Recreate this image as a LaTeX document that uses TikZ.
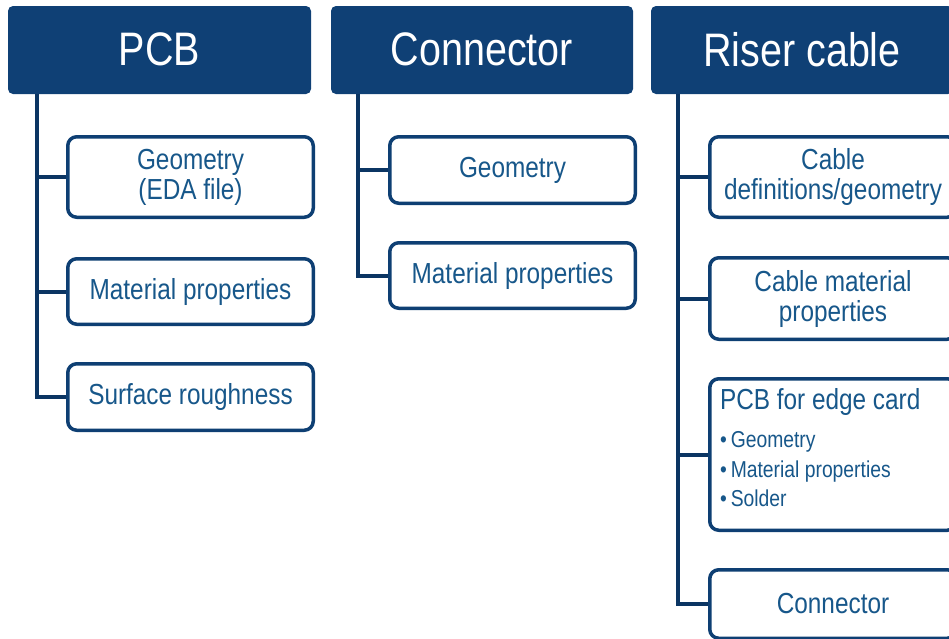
\documentclass[tikz,border=0pt]{standalone}
\usepackage{fontspec}
\setmainfont{Liberation Sans}[FakeStretch=0.84]
\definecolor{hdrblue}{HTML}{0F4075}
\definecolor{trunkblue}{HTML}{0B3563}
\definecolor{boxblue}{HTML}{0E3F73}
\definecolor{txtblue}{HTML}{17578A}
\tikzset{
  hdr/.style={fill=hdrblue, draw=none, rounded corners=5pt, text=white,
    font=\fontsize{47}{50}\selectfont, inner sep=0pt},
  child/.style={draw=boxblue, line width=3.5pt, rounded corners=9pt, fill=white,
    text=txtblue, font=\fontsize{29}{30}\selectfont, align=center, inner sep=0pt},
  trunk/.style={draw=trunkblue, line width=4pt}
}
\begin{document}
\begin{tikzpicture}[x=1pt,y=-1pt]
\useasboundingbox (0,0) rectangle (949,638);
% headers
\node[hdr, minimum width=303, minimum height=88] (pcb) at (159.5,50) {\raisebox{2pt}{PCB}};
\node[hdr, minimum width=302, minimum height=88] (con) at (482,50) {\raisebox{2pt}{Connector}};
\node[hdr, minimum width=302, minimum height=88] (ris) at (802,50) {\raisebox{2pt}{Riser cable}};
% PCB children
\node[child, minimum width=245.5, minimum height=80.5] (pcbgeo) at (190.5,177) {Geometry\\(EDA file)};
\node[child, minimum width=245.5, minimum height=65.5] (pcbmat) at (190.5,291.5) {Material properties};
\node[child, minimum width=245.5, minimum height=66.5] (pcbsr) at (190.5,397) {Surface roughness};
% Connector children
\node[child, minimum width=245.5, minimum height=66.5] (cgeo) at (512.5,170) {Geometry};
\node[child, minimum width=245.5, minimum height=65.5] (cmat) at (512.5,275.5) {Material properties};
% Riser children
\node[child, minimum width=246.5, minimum height=80.5] (rdef) at (833,177) {Cable\\definitions/geometry};
\node[child, minimum width=246.5, minimum height=81.5] (rmat) at (833,298.5) {Cable material\\properties};
\node[child, minimum width=246.5, minimum height=151.5, text width=226, align=left] (rpcb) at (833,454.5)
  {\spaceskip=0pt\xspaceskip=0pt PCB for edge card\\[9pt]{\fontsize{23}{28.5}\selectfont\spaceskip=0pt\xspaceskip=0pt
   \kern1pt•\kern4pt Geometry\\\kern1pt•\kern4pt Material properties\\\kern1pt•\kern4pt Solder\\[-16pt]\mbox{}}};
\node[child, minimum width=246.5, minimum height=68.5] (rcon) at (833,604) {Connector};
% connectors
\coordinate (pcbt) at ([xshift=29pt]pcb.south west);
\coordinate (cont) at ([xshift=27pt]con.south west);
\coordinate (rist) at ([xshift=27pt]ris.south west);
\draw[trunk] (pcbt) |- (pcbsr.west);
\draw[trunk] (pcbt) |- (pcbgeo.west);
\draw[trunk] (pcbt) |- (pcbmat.west);
\draw[trunk] (cont) |- (cmat.west);
\draw[trunk] (cont) |- (cgeo.west);
\draw[trunk] (rist) |- (rcon.west);
\draw[trunk] (rist) |- (rdef.west);
\draw[trunk] (rist) |- (rmat.west);
\draw[trunk] (rist) |- (rpcb.west);
\end{tikzpicture}
\end{document}
